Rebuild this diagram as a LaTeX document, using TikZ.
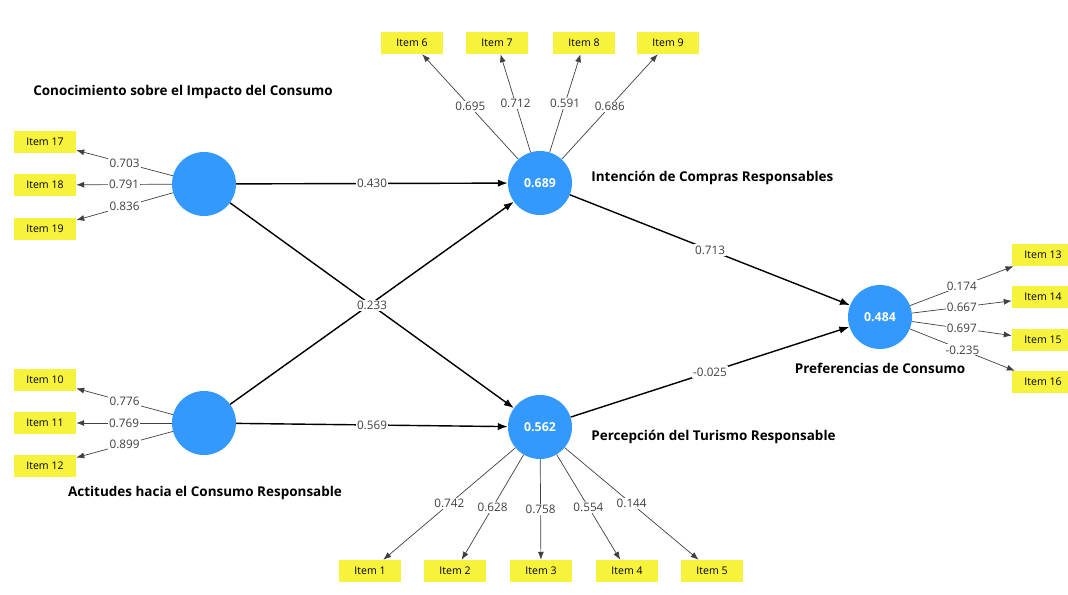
\documentclass[tikz,border=0pt]{standalone}
\usepackage{fontspec}
\setmainfont{Open Sans}
\usetikzlibrary{arrows.meta,positioning}
\definecolor{lvblue}{HTML}{3399FF}
\definecolor{itemyellow}{HTML}{F7F33C}

\begin{document}
\begin{tikzpicture}[x=0.03cm,y=-0.03cm,
   latent/.style={circle,fill=lvblue,minimum size=1.92cm,inner sep=0pt,text=white,font=\fontsize{10.5}{12}\selectfont\bfseries},
   item/.style={rectangle,fill=itemyellow,minimum width=1.86cm,minimum height=0.66cm,inner sep=1pt,font=\fontsize{9}{10}\selectfont},
   title/.style={font=\fontsize{11.5}{13}\selectfont\bfseries},
   load/.style={-{Latex[length=2.4mm,width=1.8mm]},draw=black!75,line width=0.6pt},
   struct/.style={-{Latex[length=3mm,width=2.2mm]},draw=black,line width=1.2pt},
   lbl/.style={fill=white,inner sep=1pt,text=black!75,font=\fontsize{10}{11}\selectfont}]
   \useasboundingbox (0,0) rectangle (1068,595);
   % latent variables
   \node[latent] (ck) at (204,184) {};
   \node[latent] (ac) at (204,423) {};
   \node[latent] (ic) at (540,183) {0.689};
   \node[latent] (pt) at (540,427) {0.562};
   \node[latent] (pc) at (880,317) {0.484};
   \node[title] (tck) at (183,92) {Conocimiento sobre el Impacto del Consumo};
   \node[title] (tac) at (205,493) {Actitudes hacia el Consumo Responsable};
   \node[title,right=0.45cm of ic,yshift=0.15cm] (tic) {Intención de Compras Responsables};
   \node[title,right=0.45cm of pt,yshift=-0.3cm] (tpt) {Percepción del Turismo Responsable};
   \node[title,below=0.3cm of pc] (tpc) {Preferencias de Consumo};
   % indicators
   \node[item] (i17) at (45,142) {Item 17};
   \node[item] (i18) at (45,185) {Item 18};
   \node[item] (i19) at (45,229) {Item 19};
   \node[item] (i10) at (45,380) {Item 10};
   \node[item] (i11) at (45,423) {Item 11};
   \node[item] (i12) at (45,466) {Item 12};
   \node[item] (i6) at (412,43) {Item 6};
   \node[item] (i7) at (497,43) {Item 7};
   \node[item] (i8) at (584,43) {Item 8};
   \node[item] (i9) at (668,43) {Item 9};
   \node[item] (i13) at (1043,255) {Item 13};
   \node[item] (i14) at (1043,297) {Item 14};
   \node[item] (i15) at (1043,340) {Item 15};
   \node[item] (i16) at (1043,382) {Item 16};
   \node[item] (i1) at (370,571) {Item 1};
   \node[item] (i2) at (455,571) {Item 2};
   \node[item] (i3) at (541,571) {Item 3};
   \node[item] (i4) at (627,571) {Item 4};
   \node[item] (i5) at (712,571) {Item 5};
   % loadings
   \path
    (ck) edge[load] node[lbl] {0.703} (i17)
         edge[load] node[lbl] {0.791} (i18)
         edge[load] node[lbl] {0.836} (i19)
    (ac) edge[load] node[lbl] {0.776} (i10)
         edge[load] node[lbl] {0.769} (i11)
         edge[load] node[lbl] {0.899} (i12)
    (ic) edge[load] node[lbl] {0.695} (i6)
         edge[load] node[lbl] {0.712} (i7)
         edge[load] node[lbl] {0.591} (i8)
         edge[load] node[lbl] {0.686} (i9)
    (pc) edge[load] node[lbl] {0.174} (i13)
         edge[load] node[lbl] {0.667} (i14)
         edge[load] node[lbl] {0.697} (i15)
         edge[load] node[lbl] {-0.235} (i16)
    (pt) edge[load] node[lbl] {0.742} (i1)
         edge[load] node[lbl] {0.628} (i2)
         edge[load] node[lbl] {0.758} (i3)
         edge[load] node[lbl] {0.554} (i4)
         edge[load] node[lbl] {0.144} (i5);
   % structural paths
   \path
    (ac) edge[struct] (ic)
    (ck) edge[struct] node[lbl] {0.430} (ic)
         edge[struct] node[lbl] {0.233} (pt)
    (ac) edge[struct] node[lbl] {0.569} (pt)
    (ic) edge[struct] node[lbl] {0.713} (pc)
    (pt) edge[struct] node[lbl] {-0.025} (pc);
\end{tikzpicture}
\end{document}
